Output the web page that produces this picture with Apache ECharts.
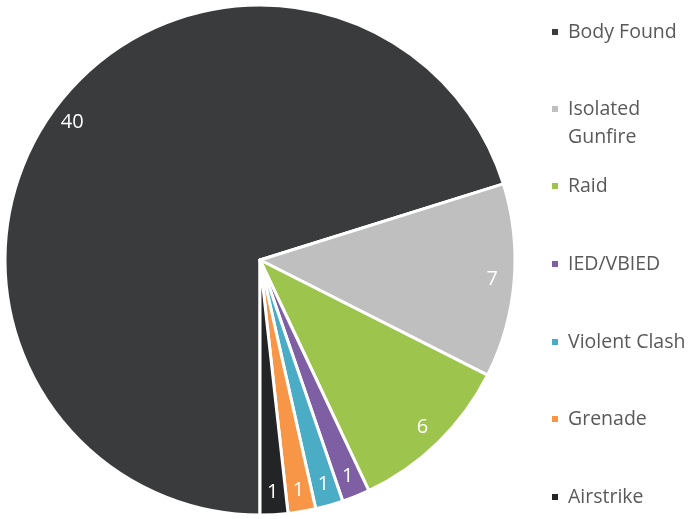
<!DOCTYPE html>
<html><head><meta charset="utf-8">
<script src="https://cdn.jsdelivr.net/npm/echarts@6/dist/echarts.min.js"></script>
<style>html,body{margin:0;padding:0;background:#fff}#c{width:694px;height:519px}</style>
</head><body><div id="c"></div>
<script>
var categories = ['Body Found','Isolated Gunfire','Raid','IED/VBIED','Violent Clash','Grenade','Airstrike'];
var legendLabels = ['Body Found','Isolated\nGunfire','Raid','IED/VBIED','Violent Clash','Grenade','Airstrike'];
var values = [40,7,6,1,1,1,1];
var colors = ['#3a3b3d','#bfbfbf','#9dc44d','#7e5fa4','#4bacc6','#f79646','#232426'];

var data = categories.map(function(n,i){return {name:n,value:values[i],itemStyle:{color:colors[i]}};});
var font = '"Open Sans", sans-serif';
var legendTops = [32,109,186,264,342,419,497];
var legends = categories.map(function(n,i){
  var two = legendLabels[i].indexOf('\n')>=0;
  return {
    orient:'vertical', left:545, top: (two ? legendTops[i]-42 : legendTops[i]-14) - 5,
    data:[n], icon:'rect', itemWidth:8, itemHeight:8, selectedMode:false,
    formatter:function(){return two ? '\u00a0\n' + legendLabels[i] : legendLabels[i];},
    textStyle:{color:'#595959', fontSize:19.5, fontFamily:font, lineHeight:28, padding:[0,0,0,4]}
  };
});
var chart = echarts.init(document.getElementById('c'));
chart.setOption({
  animation:false,
  legend: legends,
  series:[{
    type:'pie', center:[260,260], radius:[0,255], startAngle:270, clockwise:true,
    data:data, label:{show:false}, labelLine:{show:false},
    itemStyle:{borderColor:'#fff', borderWidth:3}, emphasis:{disabled:true}
  },{
    type:'pie', center:[260,260], radius:[205,255], startAngle:270, clockwise:true, silent:true,
    data:categories.map(function(n,i){return {name:n,value:values[i]};}),
    itemStyle:{color:'rgba(0,0,0,0)'}, labelLine:{show:false},
    label:{show:true, position:'inside', color:'#fff', fontSize:20, fontFamily:font, formatter:'{c}'},
    emphasis:{disabled:true}, legendHoverLink:false
  }]
});
</script></body></html>
